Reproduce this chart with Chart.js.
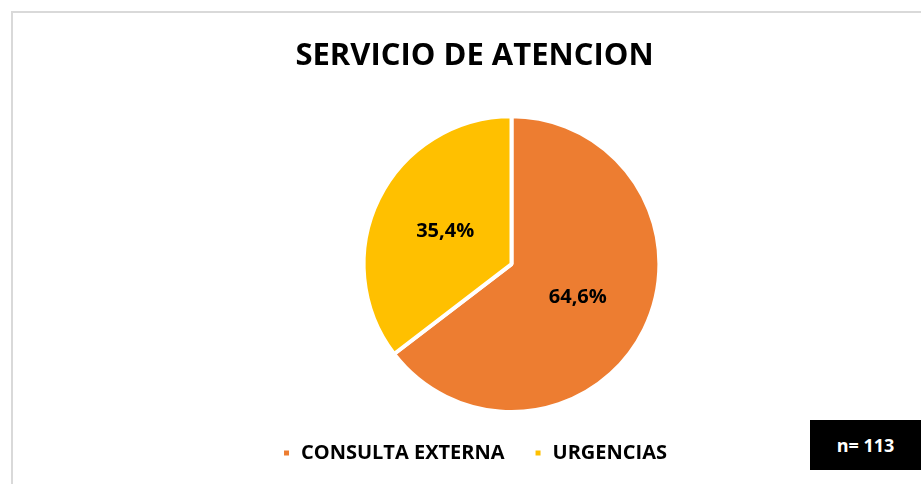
<!DOCTYPE html>
<html>
<head>
<meta charset="utf-8">
<script src="https://cdn.jsdelivr.net/npm/chart.js@4"></script>
<style>
  html, body { margin: 0; padding: 0; background: #fff; }
  #wrap { position: relative; width: 921px; height: 484px; overflow: hidden; }
  #frame { position: absolute; left: 11px; top: 11px; width: 1000px; height: 1000px; border: 2px solid #d9d9d9; box-sizing: border-box; }
  #chart { position: absolute; left: 0; top: 0; }
  #nbox {
    position: absolute; left: 810px; top: 420px; width: 111px; height: 50px;
    background: #000; color: #fff; font: bold 18px "Open Sans", sans-serif;
    display: flex; align-items: center; justify-content: center;
  }
</style>
</head>
<body>
<div id="wrap">
  <div id="frame"></div>
  <canvas id="chart" width="921" height="484"></canvas>
  <div id="nbox">n= 113</div>
</div>
<script>
// Data
const categories = ['CONSULTA EXTERNA', 'URGENCIAS'];
const percentages = [64.6, 35.4];
const colors = ['#ED7D31', '#FFC000'];
const titleText = 'SERVICIO DE ATENCION';

const FONT = '"Open Sans", sans-serif';
const pieShiftX = 37;

// shift the pie right of the title/legend center, and draw value labels
const pieLabels = {
  id: 'pieLabels',
  beforeDatasetsDraw(chart) {
    chart.ctx.save();
    chart.ctx.translate(pieShiftX, 0);
  },
  afterDatasetsDraw(chart) {
    const ctx = chart.ctx;
    const meta = chart.getDatasetMeta(0);
    ctx.fillStyle = '#000';
    ctx.font = 'bold 20px ' + FONT;
    ctx.textAlign = 'center';
    ctx.textBaseline = 'middle';
    meta.data.forEach((arc, i) => {
      const p = arc.tooltipPosition();
      ctx.fillText(percentages[i].toFixed(1).replace('.', ',') + '%', p.x, p.y);
    });
    ctx.restore();
  }
};

new Chart(document.getElementById('chart'), {
  type: 'pie',
  data: {
    labels: categories,
    datasets: [{
      data: percentages,
      backgroundColor: colors,
      borderColor: '#fff',
      borderWidth: 4
    }]
  },
  options: {
    responsive: false,
    animation: false,
    layout: { padding: { left: 28, right: 0, top: 0, bottom: 11 } },
    plugins: {
      title: {
        display: true,
        text: titleText,
        color: '#000',
        font: { family: FONT, size: 31, weight: 'bold', lineHeight: 1.2 },
        padding: { top: 38, bottom: 39 }
      },
      legend: {
        position: 'bottom',
        labels: {
          color: '#000',
          font: { family: FONT, size: 20, weight: 'bold' },
          boxWidth: 9,
          boxHeight: 9,
          padding: 29
        }
      },
      tooltip: { enabled: false }
    }
  },
  plugins: [pieLabels]
});
</script>
</body>
</html>
